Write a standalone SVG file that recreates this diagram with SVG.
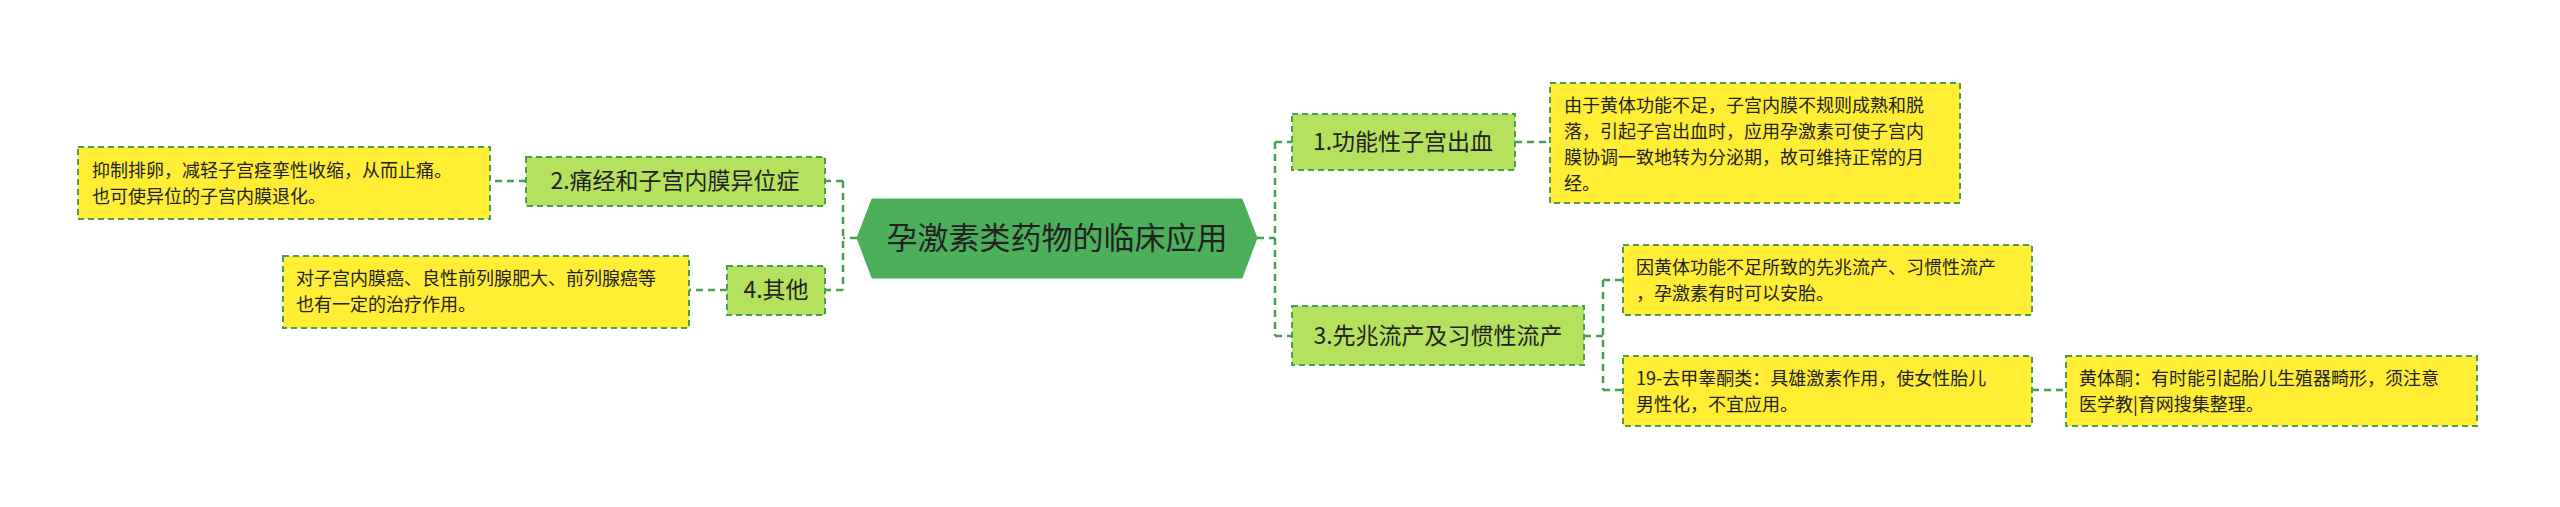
<svg xmlns="http://www.w3.org/2000/svg" width="2560" height="507" viewBox="0 0 2560 507">
<style>
text{font-family:"Noto Sans CJK SC","Liberation Sans",sans-serif;fill:#222}
.b{fill:#b5e25e;stroke:#4a9e4f;stroke-width:2;stroke-dasharray:6 4}
.l{fill:#ffee33;stroke:#4a9e4f;stroke-width:2;stroke-dasharray:6 4}
.n{font-size:23px}
.t{font-size:18px}
.c{fill:none;stroke:#4a9e4f;stroke-width:2.5;stroke-dasharray:7 5}
</style>
<rect width="2560" height="507" fill="#fff"/>
<g id="connectors">
<path class="c" d="M857 238 H843 M843 181 V290 M843 181 H825 M843 290 H825 M526 181 H490 M727 290 H689"/>
<path class="c" d="M1257 238 H1275 M1275 142 V336 M1275 142 H1292 M1275 336 H1292 M1515 142 H1550"/>
<path class="c" d="M1584 336 H1603 M1603 280 V390 M1603 280 H1623 M1603 390 H1623 M2032 390 H2066"/>
</g>
<g id="center"><polygon points="872,199 1242,199 1257,238 1242,278 872,278 857,238" fill="#4caf5a" stroke="#4caf5a"/><text x="1057" y="249" font-size="31" text-anchor="middle" style="fill:#222">孕激素类药物的临床应用</text></g>
<g id="n2"><rect class="b" x="526" y="157" width="299" height="49"/><text class="n" x="675" y="189" text-anchor="middle">2.痛经和子宫内膜异位症</text></g>
<g id="l2"><rect class="l" x="78" y="147" width="412" height="72"/><text class="t" x="92" y="177">抑制排卵，减轻子宫痉挛性收缩，从而止痛。</text><text class="t" x="92" y="203">也可使异位的子宫内膜退化。</text></g>
<g id="n4"><rect class="b" x="727" y="266" width="98" height="49"/><text class="n" x="776" y="298" text-anchor="middle">4.其他</text></g>
<g id="l4"><rect class="l" x="283" y="256" width="406" height="72"/><text class="t" x="296" y="285">对子宫内膜癌、良性前列腺肥大、前列腺癌等</text><text class="t" x="296" y="311">也有一定的治疗作用。</text></g>
<g id="n1"><rect class="b" x="1292" y="114" width="223" height="56"/><text class="n" x="1403" y="150" text-anchor="middle">1.功能性子宫出血</text></g>
<g id="l1"><rect class="l" x="1550" y="83" width="410" height="120"/><text class="t" x="1564" y="112">由于黄体功能不足，子宫内膜不规则成熟和脱</text><text class="t" x="1564" y="138">落，引起子宫出血时，应用孕激素可使子宫内</text><text class="t" x="1564" y="164">膜协调一致地转为分泌期，故可维持正常的月</text><text class="t" x="1564" y="190">经。</text></g>
<g id="n3"><rect class="b" x="1292" y="306" width="292" height="59"/><text class="n" x="1438" y="344" text-anchor="middle">3.先兆流产及习惯性流产</text></g>
<g id="l3a"><rect class="l" x="1623" y="245" width="409" height="70"/><text class="t" x="1636" y="274">因黄体功能不足所致的先兆流产、习惯性流产</text><text class="t" x="1636" y="300">，孕激素有时可以安胎。</text></g>
<g id="l3b"><rect class="l" x="1623" y="356" width="409" height="70"/><text class="t" x="1636" y="385">19-去甲睾酮类：具雄激素作用，使女性胎儿</text><text class="t" x="1636" y="411">男性化，不宜应用。</text></g>
<g id="l3c"><rect class="l" x="2066" y="356" width="411" height="70"/><text class="t" x="2079" y="385">黄体酮：有时能引起胎儿生殖器畸形，须注意</text><text class="t" x="2079" y="411">医学教|育网搜集整理。</text></g>
</svg>
